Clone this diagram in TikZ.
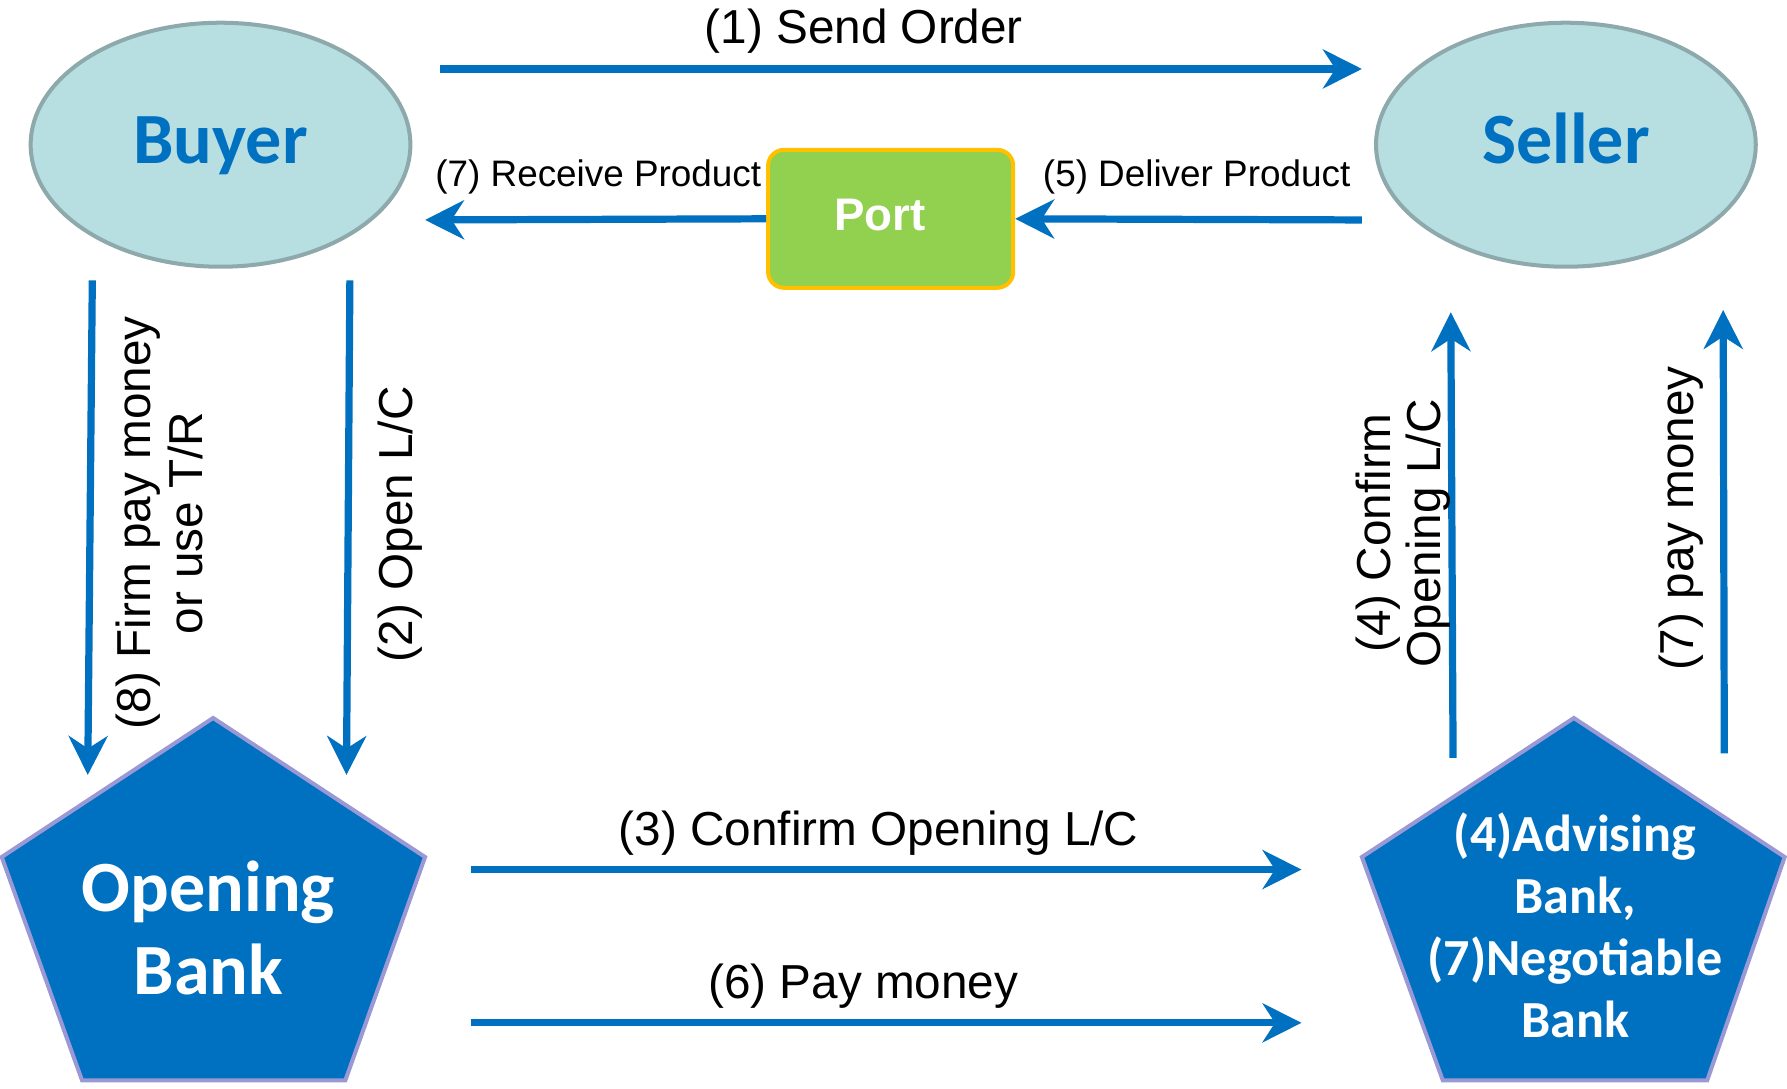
\documentclass[tikz,border=0pt]{standalone}
\usepackage{fontspec}
\setmainfont{Liberation Sans}
\newfontfamily\calibri{Carlito}
\usetikzlibrary{shapes.geometric,arrows.meta}

\definecolor{lcblue}{HTML}{0070C0}
\definecolor{partyfill}{HTML}{B7DEE1}
\definecolor{partyline}{HTML}{8EA9AB}
\definecolor{bankline}{HTML}{9A99D6}
\definecolor{portfill}{HTML}{92D050}
\definecolor{portline}{HTML}{FFC000}

\begin{document}
\begin{tikzpicture}[x=0.01cm,y=-0.01cm,
    flow/.style={draw=lcblue,line width=1.8pt,-{Stealth[length=9.7pt,width=9.7pt,inset=3.1pt]}},
    party/.style={ellipse,draw=partyline,line width=1pt,fill=partyfill,minimum width=3.33cm,minimum height=2.14cm,
      text=lcblue,font=\calibri\bfseries\fontsize{18}{20}\selectfont,text height=13.5pt,text depth=4.3pt},
    port/.style={rectangle,rounded corners=4pt,draw=portline,line width=1pt,fill=portfill,minimum width=2.15cm,minimum height=1.21cm},
    porttext/.style={text=white,font=\bfseries\fontsize{11.4}{13}\selectfont,inner sep=0pt},
    bank/.style={draw=bankline,line width=1pt,fill=lcblue},
    banktext/.style={text=white,align=center,inner sep=0pt},
    biglbl/.style={font=\fontsize{11.9}{13}\selectfont,inner sep=0pt},
    smalllbl/.style={font=\fontsize{9.2}{11}\selectfont,inner sep=0pt}]
  \useasboundingbox (0,0) rectangle (1568,955);

  % buyer, seller and the port
  \node[party] (buyer) at (193.5,127) {Buyer};
  \node[party] (seller) at (1374,127) {Seller};
  \node[port] (port) at (781.5,192) {};
  \node[porttext,anchor=base] (porttxt) at (772,202) {Port};

  % the two banks
  \filldraw[bank] (187,630) -- (373,752) -- (303,948) -- (72,948) -- (1.5,752) -- cycle;
  \node[banktext,font=\calibri\bfseries\fontsize{18}{20.8}\selectfont] (opening) at (183,814) {Opening\\Bank};
  \filldraw[bank] (1381,630) -- (1566,752) -- (1498,948) -- (1266,948) -- (1195,752) -- cycle;
  \node[banktext,font=\calibri\bfseries\fontsize{13}{15.5}\selectfont] (advising) at (1382,812) {(4)Advising\\Bank,\\(7)Negotiable\\Bank};

  % free ends of the arrows
  \coordinate (b-out1) at (386,60.5);
  \coordinate (s-in1) at (1195,60.5);
  \coordinate (b-in7) at (373,193);
  \coordinate (s-out5) at (1195,193);
  \coordinate (b-out8) at (81,246);
  \coordinate (ob-in8) at (77,680);
  \coordinate (b-out2) at (307,246);
  \coordinate (ob-in2) at (304,680);
  \coordinate (ab-out4) at (1275,665);
  \coordinate (s-in4) at (1273,274);
  \coordinate (ab-out7) at (1513,661);
  \coordinate (s-in7) at (1512,272);
  \coordinate (ob-out3) at (413,763);
  \coordinate (ab-in3) at (1142,763);
  \coordinate (ob-out6) at (413,897.5);
  \coordinate (ab-in6) at (1142,897.5);

  \draw[flow] (b-out1) -- (s-in1);
  \draw[flow] (port.west) -- (b-in7);
  \draw[flow] (s-out5) -- (port.east);
  \draw[flow] (b-out8) -- (ob-in8);
  \draw[flow] (b-out2) -- (ob-in2);
  \draw[flow] (ab-out4) -- (s-in4);
  \draw[flow] (ab-out7) -- (s-in7);
  \draw[flow] (ob-out3) -- (ab-in3);
  \draw[flow] (ob-out6) -- (ab-in6);

  % labels
  \node[biglbl,anchor=base] (l1) at (758,38) {(1) Send Order};
  \node[smalllbl,anchor=base] (l7a) at (525,164) {(7) Receive Product};
  \node[smalllbl,anchor=base] (l5) at (1050,164) {(5) Deliver Product};
  \node[biglbl,rotate=90,align=center] (l8) at (140,459) {(8) Firm pay money\\or use T/R};
  \node[biglbl,rotate=90] (l2) at (351,460) {(2) Open L/C};
  \node[biglbl,rotate=90,align=center,font=\fontsize{11.9}{12.5}\selectfont] (l4) at (1231,468) {(4) Confirm\\Opening L/C};
  \node[biglbl,rotate=90] (l7b) at (1475,455) {(7) pay money};
  \node[biglbl,anchor=base] (l3) at (771,741.5) {(3) Confirm Opening L/C};
  \node[biglbl,anchor=base] (l6) at (757.5,876) {(6) Pay money};
\end{tikzpicture}
\end{document}
